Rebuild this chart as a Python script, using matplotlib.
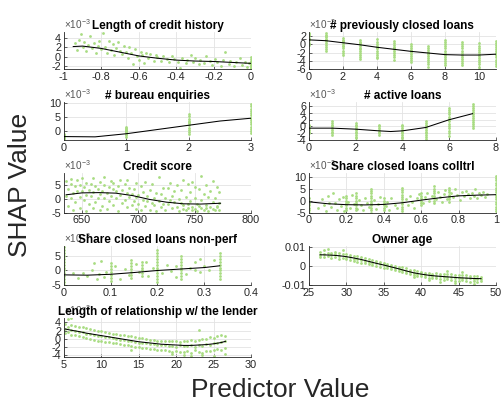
import matplotlib.pyplot as plt
from matplotlib.ticker import FuncFormatter

plt.rcParams['font.family'] = ['Liberation Sans', 'DejaVu Sans']
plt.rcParams['mathtext.fontset'] = 'custom'
plt.rcParams['mathtext.rm'] = 'Liberation Sans'
plt.rcParams['axes.unicode_minus'] = False

# all SHAP values below are in units of 1e-3

# Length of credit history
hist_x = [-0.94, -0.93, -0.92, -0.91, -0.90, -0.89, -0.88, -0.87, -0.86, -0.85, -0.84, -0.83, -0.82, -0.81,
          -0.80, -0.79, -0.78, -0.77, -0.76, -0.75, -0.74, -0.73, -0.72, -0.71, -0.70, -0.69, -0.68, -0.67,
          -0.66, -0.65, -0.64, -0.63, -0.62, -0.61, -0.60, -0.59, -0.58, -0.57, -0.56, -0.55, -0.54, -0.52,
          -0.51, -0.50, -0.48, -0.47, -0.45, -0.44, -0.42, -0.41, -0.39, -0.38, -0.37, -0.35, -0.34, -0.32,
          -0.31, -0.30, -0.28, -0.27, -0.25, -0.24, -0.22, -0.21, -0.19, -0.18, -0.16, -0.15, -0.14, -0.12,
          -0.11, -0.09, -0.08, -0.06, -0.05, -0.03, -0.02, -0.01, 0, 0, 0, 0, 0, 0, 0, 0, 0]
hist_y = [2.9, 1.5, 3.6, 4.9, 2.0, 3.1, 1.2, 2.6, 4.5, 1.8, 2.9, 0.9, 2.3, 3.4,
          1.6, 5.2, 2.1, 0.8, 3.3, 1.4, 2.8, 0.3, 1.9, 3.1, 1.2, 0.5, 2.4, 1.0,
          -0.2, 2.2, 0.8, -1.5, 1.6, 0.2, -0.6, 1.1, 0.4, -1.4, 0.9, -0.3, 0.6, -0.8,
          0.3, -0.1, -0.9, 0.2, -0.5, -1.2, 0.1, -0.4, -1.0, -2.4, -0.2, -1.4, -0.6, 0.4,
          -1.1, -0.3, -1.6, -0.7, -1.3, 0.2, -0.9, -1.8, -0.4, -1.2, -2.0, -0.6, 1.0, -1.5,
          -0.8, -1.9, -1.1, -0.3, -1.7, -1.0, -2.1, -1.4, -2.4, -2.0, -1.6, -1.2, -0.8, -0.4, 0.0, -2.2, -1.8]
hist_fit_x = [-0.95, -0.9, -0.8, -0.7, -0.6, -0.5, -0.4, -0.3, -0.2, -0.1, 0]
hist_fit_y = [2.2, 2.3, 1.8, 1.0, 0.2, -0.3, -0.7, -0.9, -1.0, -1.2, -1.4]

# previously closed loans (one column of points per count)
closed_x = [0, 1, 2, 3, 4, 5, 6, 7, 8, 9, 10, 11]
closed_y = [[2.8, 2.2, 1.6, 1.0, 0.4, -0.2, 2.5, 1.3],
            [2.8, 2.3, 1.8, 1.3, 0.8, 0.3, -0.2, -0.7, -1.2, -1.6, 2.0, 1.0],
            [1.5, 1.0, 0.5, 0.0, -0.5, -1.0, -1.5, -2.0, -2.5, 0.8, -0.3],
            [1.0, 0.5, 0.0, -0.5, -1.0, -1.5, -2.0, -2.5, -3.0, -3.5, 0.3, -1.2],
            [1.2, 0.6, 0.0, -0.5, -1.0, -1.5, -2.0, -2.5, -3.0, -3.4, -0.8],
            [0.8, 0.3, -0.2, -0.7, -1.2, -1.7, -2.2, -2.7, -3.2, -3.7, -1.0],
            [0.2, -0.3, -0.8, -1.3, -1.8, -2.3, -2.8, -3.3, -3.8, -4.2, -1.5],
            [-0.3, -0.8, -1.3, -1.8, -2.3, -2.8, -3.3, -3.8, -4.3, -4.8, -5.6, -2.0],
            [1.0, 0.5, 0.0, -0.5, -1.0, -1.5, -2.0, -2.5, -3.0, -3.5, -4.0, -4.5, -5.0],
            [0.5, 0.0, -0.5, -1.0, -1.5, -2.0, -2.5, -3.0, -3.5, -4.0, -4.5, -5.0],
            [0.3, -0.3, -0.8, -1.3, -1.8, -2.3, -2.8, -3.3, -3.8, -4.3, -4.8, -5.4, -6.0],
            [0.8, 0.3, -0.2, -0.7, -1.2, -1.7, -2.2, -2.7, -3.2, -3.7, -4.2, -4.7, -5.2]]
closed_fit_x = [0, 1, 2, 3, 4, 5, 6, 7, 8, 9, 10, 11]
closed_fit_y = [1.1, 0.9, 0.4, -0.1, -0.7, -1.2, -1.7, -2.1, -2.5, -2.6, -2.6, -2.4]

# bureau enquiries
bureau_x = [0, 1, 2, 3]
bureau_y = [[-1.0, -1.5, -2.0, -2.5, -3.0, -1.8, -2.3],
            [1.5, 1.0, 0.5, 0.0, -0.5, -1.0, -1.5, -2.0, -0.2, 0.8],
            [6.0, 5.2, 4.4, 3.6, 2.8, 2.0, 1.2, 0.4, -0.4, -1.0, 3.0],
            [9.5, 8.7, 7.9, 7.1, 6.3, 5.5, 4.7, 3.9, 3.1, 2.3, 1.5, 0.7, -0.1, -0.9]]
bureau_fit_x = [0, 0.5, 1, 1.5, 2, 2.5, 3]
bureau_fit_y = [-2.0, -2.1, -1.0, 0.5, 2.0, 3.5, 4.5]

# active loans
active_x = [0, 1, 2, 3, 4, 5, 6, 7]
active_y = [[0.5, 0.0, -0.5, -1.0, -1.5, -2.0],
            [1.5, 1.0, 0.5, 0.0, -0.5, -1.0, -1.5, -2.0, -2.5],
            [1.0, 0.5, 0.0, -0.5, -1.0, -1.5, -2.0, -2.5, -3.0, -3.5],
            [0.5, 0.0, -0.5, -1.0, -1.5, -2.0, -2.5],
            [0.5, 0.0, -0.5, -1.0, -1.5, -2.0, -2.5, -3.0, -3.5, -4.0],
            [1.5, 1.0, 0.5, 0.0, -0.5, -1.0, -1.5, -2.0, -2.5, -3.0, -3.7],
            [5.5, 5.0, 4.3, 3.6, 2.9, 2.2, 1.5, 0.8, 0.1, -0.6, -1.3, -2.0, -2.8],
            [6.8, 6.2, 5.6, 5.0, 4.4, 3.8, 3.2, 2.6, 2.0, 1.4, 0.8, 0.2, -0.4]]
active_fit_x = [0, 1, 2, 3, 3.5, 4, 5, 6, 7]
active_fit_y = [-0.5, -0.5, -0.8, -1.3, -1.5, -1.3, -0.3, 2.0, 3.8]

# credit score
score_x = [636, 636, 638, 638, 640, 640, 640, 642, 642, 644, 644, 646, 646, 648, 648, 648, 650, 650,
           652, 652, 654, 654, 654, 656, 656, 658, 658, 660, 660, 660, 662, 662, 664, 664, 666, 666, 666,
           668, 668, 670, 670, 670, 672, 672, 674, 674, 676, 676, 678, 678, 678, 680, 680, 682, 682,
           684, 684, 686, 686, 688, 688, 690, 690, 690, 692, 692, 694, 694, 696, 696, 698, 698, 698,
           700, 700, 702, 702, 704, 704, 706, 706, 708, 708, 710, 710, 712, 712, 714, 714, 716, 716,
           718, 718, 720, 720, 722, 722, 724, 724, 726, 726, 728, 728, 730, 730, 732, 732, 734, 734,
           736, 736, 738, 738, 740, 740, 740, 742, 742, 744, 744, 744, 746, 746, 748, 748, 748,
           750, 750, 750, 752, 752, 754, 754, 756, 756, 756, 758, 758, 760, 760, 760, 762, 762,
           764, 764, 766, 766, 766, 768, 768, 770, 770, 770, 772, 772, 772]
score_y = [6.5, 1.2, 3.8, -2.5, 5.5, 0.3, 7.2, 2.1, -4.0, 4.6, -1.2, 6.8, 3.0, 0.8, 5.0, -3.2, 2.9, 7.5,
           4.2, -0.5, 1.5, 6.0, -4.5, 3.3, -2.0, 5.4, 0.9, 2.6, 7.8, -3.5, 4.8, -1.0, 0.2, 3.6, 6.2, 1.8, -4.2,
           3.0, -2.6, 5.1, 0.5, 8.0, 2.3, -3.8, 4.4, -0.8, 1.0, 6.5, 3.7, -2.2, 5.8, 0.4, 2.8, 4.9, -4.6,
           1.6, 7.0, 3.2, -1.5, -0.5, 5.3, 2.0, -3.0, 6.8, 0.7, 4.1, -2.4, 1.9, 3.5, -0.9, -3.6, 0.6, 5.9,
           1.4, -1.8, 4.6, -4.2, -0.3, 2.5, 6.3, -2.7, 0.9, -0.6, 3.1, -3.9, -1.4, 5.5, 0.3, -2.3, 2.2, -4.4,
           -0.8, 7.9, 1.7, -3.1, -1.9, 4.0, 0.5, -4.0, 3.9, -2.0, -0.4, 6.0, -3.4, 1.2, 2.8, -1.1, -2.9, 5.2,
           0.0, -4.3, -1.6, 3.3, -3.7, 7.0, -2.4, 0.8, -4.1, -2.0, 5.6, -3.3, 2.4, -0.9, -4.0, -2.8, 6.2,
           0.3, -3.6, 4.5, -1.9, -4.3, 3.6, -2.6, -3.2, 8.4, -0.4, -4.1, 1.8, -2.2, 5.0, -3.5, 0.6, -4.4,
           -2.9, 3.0, -1.3, -3.8, 6.6, -4.2, 0.2, -2.5, 4.2, -3.0, -3.9, -1.5, 2.5]
score_fit_x = [636, 650, 665, 680, 695, 710, 725, 740, 755, 773]
score_fit_y = [1.5, 2.2, 2.3, 2.1, 1.2, -0.2, -1.2, -1.8, -1.9, -1.6]

# share closed loans with collateral
coll_x = [0.05, 0.07, 0.08, 0.09, 0.10, 0.11, 0.12, 0.13, 0.14, 0.15, 0.16, 0.17, 0.18, 0.19, 0.21, 0.22,
          0.23, 0.24, 0.26, 0.27, 0.28, 0.29, 0.30, 0.31, 0.32, 0.35, 0.36, 0.37, 0.38, 0.41, 0.42, 0.43,
          0.44, 0.46, 0.47, 0.52, 0.53, 0.54, 0.55, 0.56, 0.58, 0.59, 0.61, 0.62, 0.63, 0.64, 0.66, 0.68,
          0.69, 0.70, 0.71, 0.72, 0.73, 0.74, 0.76, 0.77, 0.78, 0.79, 0.81, 0.82, 0.83, 0.84, 0.85, 0.86,
          0.87, 0.88, 0.89, 0.90, 0.91, 0.92, 0.93, 0.94, 0.95]
coll_y = [-3.0, 0.5, -1.8, -4.2, 2.0, -0.8, -2.6, 3.2, -1.2, -3.8, 0.8, -2.2, 1.6, -4.5, -0.5, -3.0,
          2.4, -1.6, -3.4, 0.4, -2.0, -4.0, 1.0, -1.0, -2.8, 0.2, -3.6, -1.4, 1.5, -2.4, -0.6, -4.1,
          0.9, -1.8, -3.2, 0.5, -2.0, 1.8, -0.4, -3.0, 0.9, 2.6, -1.0, 1.4, 3.2, -0.2, 2.0, 0.6,
          3.8, 1.4, -0.6, 2.6, 4.6, 0.8, 3.0, 1.6, 5.0, 2.2, 0.4, 3.6, 1.8, 4.2, 2.6, 0.9,
          3.4, 2.0, 4.8, 1.2, 3.0, 2.2, 3.8, 1.6, 2.9]
coll_col_x = [0, 0.2, 0.25, 0.333, 0.4, 0.5, 0.6, 0.667, 0.75, 1.0]
coll_col_y = [[1.0, 0.0, -1.0, -2.0, -3.0, -4.0, -5.0],
              [2.0, 1.0, 0.0, -1.0, -2.0, -3.0, -4.0],
              [3.0, 2.0, 1.0, 0.0, -1.0, -2.0, -3.0, -4.0],
              [5.0, 4.0, 3.0, 2.0, 1.0, 0.0, -1.0, -2.0, -3.0, -4.0, -5.0],
              [1.0, 0.0, -1.0, -2.0, -3.0, -4.0],
              [5.5, 4.5, 3.5, 2.5, 1.5, 0.5, -0.5, -1.5, -2.5, -3.5, -4.5],
              [3.0, 2.0, 1.0, 0.0, -1.0, -2.0],
              [6.0, 5.0, 4.0, 3.0, 2.0, 1.0, 0.0, -1.0],
              [5.5, 4.5, 3.5, 2.5, 1.5, 0.5, -0.5],
              [10.5, 9.5, 8.5, 7.5, 6.5, 5.5, 4.5, 3.5, 2.5, 1.5, 0.5, -0.5, -1.5, -2.5, -3.5, -4.5]]
coll_fit_x = [0, 0.1, 0.2, 0.3, 0.4, 0.5, 0.6, 0.7, 0.8, 0.9, 1.0]
coll_fit_y = [-0.5, -1.3, -1.7, -1.8, -1.6, -0.9, 0.2, 1.2, 2.0, 2.3, 2.5]

# share closed loans non-performing
nonperf_x = [0.02, 0.03, 0.04, 0.05, 0.06, 0.065, 0.07, 0.075, 0.08, 0.085, 0.09, 0.11, 0.12, 0.13,
             0.14, 0.155, 0.16, 0.175, 0.18, 0.19, 0.21, 0.22, 0.23, 0.24, 0.26, 0.27, 0.28, 0.29,
             0.30, 0.31, 0.32, 0.29, 0.28, 0.24]
nonperf_y = [-1.0, -2.6, -0.8, -1.8, 0.2, 2.6, -3.0, -1.2, 3.2, -2.2, -0.4, 1.4, -2.8, 0.6,
             -1.4, 2.2, -0.6, 3.0, -2.0, 1.0, -1.0, 2.0, -0.2, 1.4, -1.2, 0.8, 2.8, -0.4,
             1.6, 0.2, 3.6, 4.0, 0.0, -2.2]
nonperf_col_x = [0, 0.1, 0.143, 0.167, 0.2, 0.25, 0.333]
nonperf_col_y = [[8.0, 7.0, 6.0, 5.0, 4.0, 3.0, 2.0, 1.0, 0.0, -1.0, -2.0, -3.0, -4.0, -5.0],
                 [2.5, 1.5, 0.5, -0.5, -1.5, -2.5, -3.5],
                 [3.5, 2.5, 1.5, 0.5, -0.5, -1.5, -2.5],
                 [3.0, 2.0, 1.0, 0.0, -1.0, -2.0],
                 [7.0, 6.0, 5.0, 4.0, 3.0, 2.0, 1.0, 0.0, -1.0, -2.0, -3.0, -4.0],
                 [5.0, 4.0, 3.0, 2.0, 1.0, 0.0, -1.0, -2.0, -3.0],
                 [6.0, 5.0, 4.0, 3.0, 2.0, 1.0, 0.0, -1.0, -2.0, -3.0]]
nonperf_fit_x = [0, 0.05, 0.1, 0.15, 0.2, 0.25, 0.3, 0.333]
nonperf_fit_y = [-1.5, -1.6, -1.3, -0.7, 0.0, 0.5, 1.0, 1.6]

# owner age
age_x = [26.5, 26.5, 26.5, 27, 27, 27, 27.5, 27.5, 27.5, 28, 28, 28, 28.5, 28.5, 28.5, 29, 29, 29,
         29.5, 29.5, 29.5, 30, 30, 30, 30.5, 30.5, 30.5, 31, 31, 31, 31.5, 31.5, 31.5, 32, 32, 32,
         32.5, 32.5, 32.5, 33, 33, 33, 33.5, 33.5, 33.5, 34, 34, 34, 34.5, 34.5, 34.5, 35, 35, 35,
         35.5, 35.5, 35.5, 36, 36, 36, 36.5, 36.5, 36.5, 37, 37, 37, 37.5, 37.5, 37.5, 38, 38, 38,
         38.5, 38.5, 38.5, 39, 39, 39, 39, 39.5, 39.5, 39.5, 40, 40, 40, 40.5, 40.5, 40.5,
         41, 41, 41, 41, 41.5, 41.5, 41.5, 42, 42, 42, 42.5, 42.5, 42.5, 42.5, 43, 43, 43,
         43.5, 43.5, 43.5, 43.5, 44, 44, 44, 44.5, 44.5, 44.5, 44.5, 45, 45, 45, 45.5, 45.5, 45.5, 45.5,
         46, 46, 46, 46.5, 46.5, 46.5, 47, 47, 47, 47, 47.5, 47.5, 47.5, 48, 48, 48]
age_y = [7.2, 5.0, 6.1, 8.5, 4.6, 6.4, 7.0, 5.3, 9.2, 6.8, 4.4, 5.9, 7.6, 4.8, 6.2, 6.9, 3.9, 5.5,
         6.4, 4.1, 8.3, 6.3, 3.6, 5.0, 5.9, 3.2, 4.6, 5.5, 2.9, 4.0, 5.2, 2.4, 3.8, 4.7, 1.9, 3.3,
         4.1, 1.5, 2.8, 3.6, 1.0, 2.4, 3.1, 0.5, 1.9, 2.7, 0.0, 1.4, 2.2, -0.4, 0.9, 1.8, -0.8, 0.4,
         1.3, -1.2, -0.1, 0.8, -1.7, -0.5, 0.2, -2.2, -1.0, -0.3, -2.7, -1.5, -0.7, -3.3, -2.0, -1.2, -3.7, -2.6,
         -1.8, -4.2, -3.1, -2.2, -4.6, -3.6, -5.6, -2.7, -5.1, -3.9, -3.1, -5.3, -4.3, -3.4, -5.6, -4.6,
         -3.6, -6.0, -4.9, -7.4, -3.9, -6.3, -5.1, -3.7, -6.5, -5.3, -4.2, -6.9, -5.4, -8.3, -4.0, -7.1, -5.6,
         -4.4, -6.8, -5.7, -2.8, -4.3, -7.4, -5.9, -4.6, -7.6, -6.0, -9.0, -4.5, -7.8, -6.2, -4.9, -7.5, -6.3, -3.0,
         -4.8, -8.0, -6.4, -5.1, -8.2, -6.5, -5.0, -7.9, -6.6, -9.2, -5.3, -8.1, -6.7, -5.6, -7.7, -6.6]
age_fit_x = [26.5, 28, 29, 30, 31, 32, 33, 34, 35, 36, 37, 38, 39, 40, 41, 42, 43, 44, 45, 46, 47, 48]
age_fit_y = [6.0, 5.8, 5.5, 5.0, 4.3, 3.5, 2.5, 1.5, 0.6, -0.4, -1.4, -2.5, -3.5, -4.2, -4.8, -5.2,
             -5.5, -5.8, -6.1, -6.3, -6.5, -6.6]

# length of relationship with the lender
rel_x = [5.2, 5.2, 5.2, 5.5, 5.5, 5.5, 6, 6, 6, 6, 6.5, 6.5, 6.5, 7, 7, 7, 7.5, 7.5, 7.5, 8, 8, 8,
         8.5, 8.5, 8.5, 9, 9, 9, 9.5, 9.5, 9.5, 10, 10, 10, 10.5, 10.5, 10.5, 11, 11, 11, 11.5, 11.5, 11.5,
         12, 12, 12, 12.5, 12.5, 12.5, 13, 13, 13, 13.5, 13.5, 13.5, 14, 14, 14, 14, 14.5, 14.5, 14.5,
         15, 15, 15, 15.5, 15.5, 15.5, 16, 16, 16, 16.5, 16.5, 16.5, 17, 17, 17, 17.5, 17.5, 17.5,
         18, 18, 18, 18.5, 18.5, 18.5, 19, 19, 19, 19.5, 19.5, 19.5, 19.5, 20, 20, 20, 20.5, 20.5, 20.5,
         21, 21, 21, 21, 21.5, 21.5, 21.5, 22, 22, 22, 22, 22.5, 22.5, 22.5, 23, 23, 23, 23, 23.5, 23.5, 23.5, 23.5,
         24, 24, 24, 24.5, 24.5, 24.5, 25, 25, 25, 25, 25.5, 25.5, 25.5, 26, 26, 26, 26.5, 26.5, 26.5, 26.5]
rel_y = [3.6, 1.4, 2.5, 4.8, 1.8, 3.0, 3.4, 1.0, 2.2, 5.0, 3.2, 0.9, 2.0, 2.9, 0.6, 1.7, 2.8, 0.4, 1.6, 2.6, 0.2, 1.3,
         2.4, 0.0, 1.2, 2.2, -0.2, 1.0, 2.0, -0.4, 0.8, 1.9, -0.5, 0.7, 1.7, -0.7, 0.5, 1.5, -0.8, 0.4, 1.3, -1.0, 0.2,
         1.2, -1.1, 0.0, 1.0, -1.3, -0.2, 0.9, -1.4, -0.3, 0.7, -1.6, -0.5, 0.6, -1.8, -0.6, -2.6, 0.4, -1.9, -0.8,
         0.3, -2.0, -0.9, 0.1, -2.2, -1.0, 0.0, -2.3, -1.1, -0.2, -2.4, -1.2, -0.3, -2.5, -1.3, -0.4, -2.6, -1.4,
         -0.5, -2.7, -1.5, -0.5, -2.8, -1.6, -0.6, -3.0, -1.7, -0.6, -3.1, -1.8, -3.8, -0.4, -2.9, -1.9, -0.7, -3.2, -1.5,
         -0.5, -3.3, -1.8, -3.9, -0.6, -3.0, -1.7, -0.3, -3.5, -1.6, -4.2, -0.4, -2.8, -1.9, -0.2, -3.1, -1.5, 2.2, 0.0, -3.4, -1.7, -4.0,
         -0.1, -2.9, -1.3, 0.4, -3.0, -1.6, 0.3, -2.6, -1.1, -4.1, 0.8, -2.4, -0.9, 1.0, -2.8, -0.7, 0.6, -2.2, -0.4, -3.6]
rel_fit_x = [5.2, 6, 7, 8, 9, 10, 11, 12, 13, 14, 15, 16, 17, 18, 19, 20, 21, 22, 23, 24, 25, 26, 26.6]
rel_fit_y = [2.4, 2.1, 1.8, 1.4, 1.1, 0.8, 0.5, 0.2, -0.1, -0.4, -0.7, -0.9, -1.1, -1.3, -1.4, -1.5, -1.6,
             -1.6, -1.5, -1.4, -1.2, -0.9, -0.6]

green = '#a9dc82'
txt = '#262626'
fmt = FuncFormatter(lambda v, p: f'{v:g}')


def flatten(cols_x, cols_y):
    xs, ys = [], []
    for cx, cy in zip(cols_x, cols_y):
        xs += [cx] * len(cy)
        ys += cy
    return xs, ys


def panel(rect, title, xs, ys, fx, fy, xlim, xticks, ylim, yticks, scale=1e-3, expo=True):
    ax = fig.add_axes(rect)
    ax.scatter(xs, [v * scale for v in ys], s=4, marker='o', color=green, linewidths=0, zorder=2)
    ax.plot(fx, [v * scale for v in fy], color='black', lw=0.75, zorder=3)
    ax.set_xlim(xlim)
    ax.set_ylim(ylim[0] * scale, ylim[1] * scale)
    ax.set_xticks(xticks)
    ax.set_yticks([t * scale for t in yticks])
    ax.xaxis.set_major_formatter(fmt)
    if expo:
        ax.yaxis.set_major_formatter(FuncFormatter(lambda v, p: f'{v / scale:g}'))
        ax.text(0.0, 1.03, '×10$^{-3}$', transform=ax.transAxes, fontsize=7.2, color='#555555',
                ha='left', va='bottom')
    else:
        ax.yaxis.set_major_formatter(fmt)
    ax.grid(True, color='#e3e3e3', lw=0.6, zorder=0)
    ax.set_axisbelow(True)
    for s in ['top', 'right']:
        ax.spines[s].set_visible(False)
    for s in ['left', 'bottom']:
        ax.spines[s].set_color(txt)
        ax.spines[s].set_linewidth(0.6)
    ax.tick_params(direction='in', length=2, width=0.5, labelsize=7.8, colors=txt, pad=2)
    ax.set_title(title, fontsize=8.5, fontweight='bold', pad=2, color='black')
    return ax


fig = plt.figure(figsize=(5.03, 4.01), dpi=100)

lx, rx, w = 0.127, 0.614, 0.372
rows = [(0.828, 0.092), (0.651, 0.095), (0.470, 0.098), (0.289, 0.097), (0.110, 0.097)]

panel([lx, rows[0][0], w, rows[0][1]], 'Length of credit history', hist_x, hist_y, hist_fit_x, hist_fit_y,
      (-1, 0), [-1, -0.8, -0.6, -0.4, -0.2, 0], (-2.6, 5.3), [-2, 0, 2, 4])
cx, cy = flatten(closed_x, closed_y)
panel([rx, rows[0][0], w, rows[0][1]], '# previously closed loans', cx, cy, closed_fit_x, closed_fit_y,
      (0, 11), [0, 2, 4, 6, 8, 10], (-6, 3), [-6, -4, -2, 0, 2])
bx, by = flatten(bureau_x, bureau_y)
panel([lx, rows[1][0], w, rows[1][1]], '# bureau enquiries', bx, by, bureau_fit_x, bureau_fit_y,
      (0, 3), [0, 1, 2, 3], (-3.2, 10.3), [0, 5, 10])
ax_, ay_ = flatten(active_x, active_y)
panel([rx, rows[1][0], w, rows[1][1]], '# active loans', ax_, ay_, active_fit_x, active_fit_y,
      (0, 8), [0, 2, 4, 6, 8], (-4, 7.3), [-4, -2, 0, 2, 4, 6])
panel([lx, rows[2][0], w, rows[2][1]], 'Credit score', score_x, score_y, score_fit_x, score_fit_y,
      (634, 800), [650, 700, 750, 800], (-5, 9.4), [-5, 0, 5])
kx, ky = flatten(coll_col_x, coll_col_y)
panel([rx, rows[2][0], w, rows[2][1]], 'Share closed loans colltrl', coll_x + kx, coll_y + ky,
      coll_fit_x, coll_fit_y, (0, 1), [0, 0.2, 0.4, 0.6, 0.8, 1], (-5, 11.5), [-5, 0, 5, 10])
nx, ny = flatten(nonperf_col_x, nonperf_col_y)
panel([lx, rows[3][0], w, rows[3][1]], 'Share closed loans non-perf', nonperf_x + nx, nonperf_y + ny,
      nonperf_fit_x, nonperf_fit_y, (0, 0.4), [0, 0.1, 0.2, 0.3, 0.4], (-5, 8.3), [-5, 0, 5])
panel([rx, rows[3][0], w, rows[3][1]], 'Owner age', age_x, age_y, age_fit_x, age_fit_y,
      (25, 50), [25, 30, 35, 40, 45, 50], (-10, 10.5), [-10, 0, 10], expo=False)
panel([lx, rows[4][0], w, rows[4][1]], 'Length of relationship w/ the lender', rel_x, rel_y, rel_fit_x, rel_fit_y,
      (5, 30), [5, 10, 15, 20, 25, 30], (-4.4, 5.1), [-4, -2, 0, 2, 4])

fig.text(0.04, 0.539, 'SHAP Value', rotation=90, fontsize=19, ha='center', va='center', color=txt)
fig.text(0.557, 0.027, 'Predictor Value', fontsize=19, ha='center', va='center', color=txt)

plt.savefig('out.png', dpi=100)
